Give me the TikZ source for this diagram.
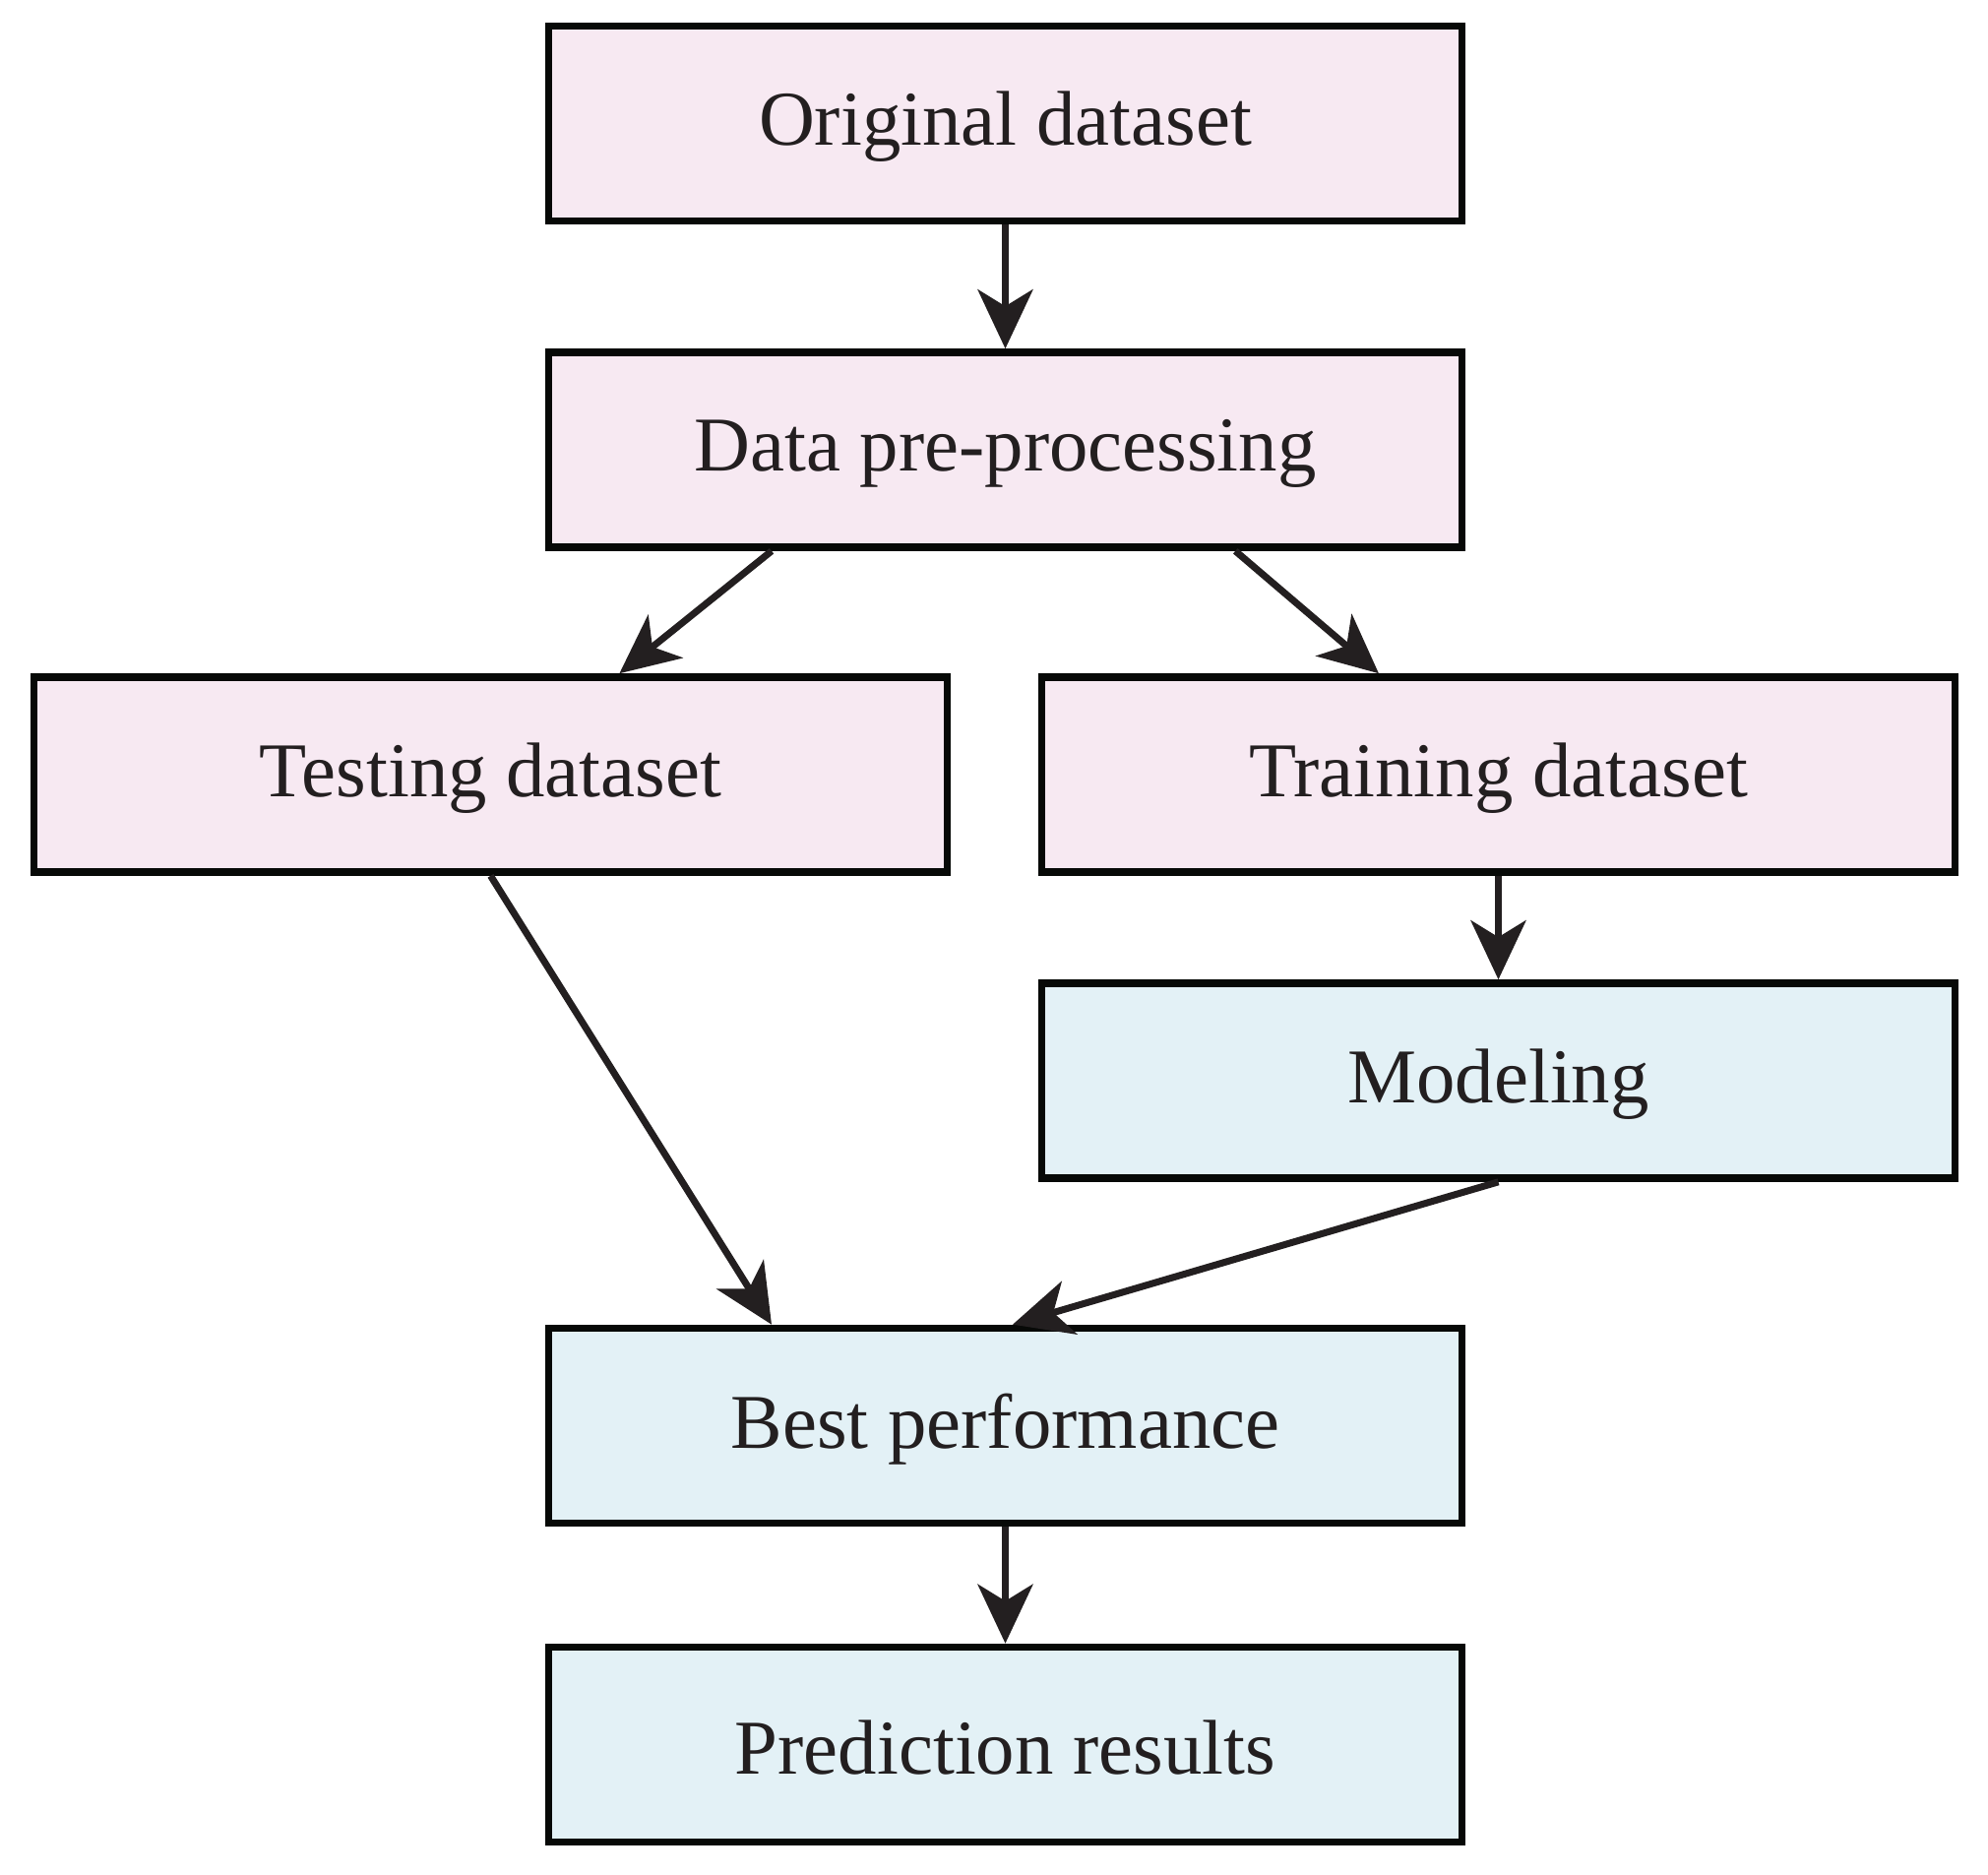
\documentclass[tikz,border=0pt]{standalone}
\usepackage{fontspec}
\setmainfont{Liberation Serif}
\usetikzlibrary{arrows.meta,calc}
\definecolor{pinkfill}{HTML}{F7E9F2}
\definecolor{bluefill}{HTML}{E3F1F6}
\definecolor{ink}{HTML}{231F20}
\definecolor{edge}{HTML}{070907}
\newcommand\boxlabel[1]{\raisebox{-0.035cm}[\height][\depth]{#1}}
\begin{document}
\begin{tikzpicture}[x=0.01cm,y=-0.01cm,
  box/.style={draw=edge, line width=0.075cm, minimum width=9.27cm, minimum height=1.98cm,
    font=\fontsize{22.4}{27}\selectfont, text=ink, inner sep=0pt},
  pinkbox/.style={box, fill=pinkfill},
  bluebox/.style={box, fill=bluefill},
  arr/.style={draw=ink, line width=0.07cm, -{Stealth[length=0.6cm,width=0.56cm,inset=0.17cm]}}]
\useasboundingbox (0,0) rectangle (2020,1905);
\node[pinkbox] (A) at (1021.5,125.5) {\boxlabel{Original dataset}};
\node[pinkbox] (B) at (1021.5,457) {\boxlabel{Data pre-processing}};
\node[pinkbox] (C) at (498.5,787) {\boxlabel{Testing dataset}};
\node[pinkbox] (D) at (1522.5,787) {\boxlabel{Training dataset}};
\node[bluebox] (E) at (1522.5,1098) {\boxlabel{Modeling}};
\node[bluebox] (F) at (1021.5,1448.5) {\boxlabel{Best performance}};
\node[bluebox] (G) at (1021.5,1772.5) {\boxlabel{Prediction results}};
\draw[arr] (A.south) -- (B.north);
\draw[arr] ($(B.south west)!0.246!(B.south east)$) -- ($(C.north west)!0.64!(C.north east)$);
\draw[arr] ($(B.south west)!0.75!(B.south east)$) -- ($(D.north west)!0.37!(D.north east)$);
\draw[arr] (D.south) -- (E.north);
\draw[arr] (C.south) -- ($(F.north west)!0.246!(F.north east)$);
\draw[arr] (E.south) -- ($(F.north west)!0.508!(F.north east)$);
\draw[arr] (F.south) -- (G.north);
\end{tikzpicture}
\end{document}
